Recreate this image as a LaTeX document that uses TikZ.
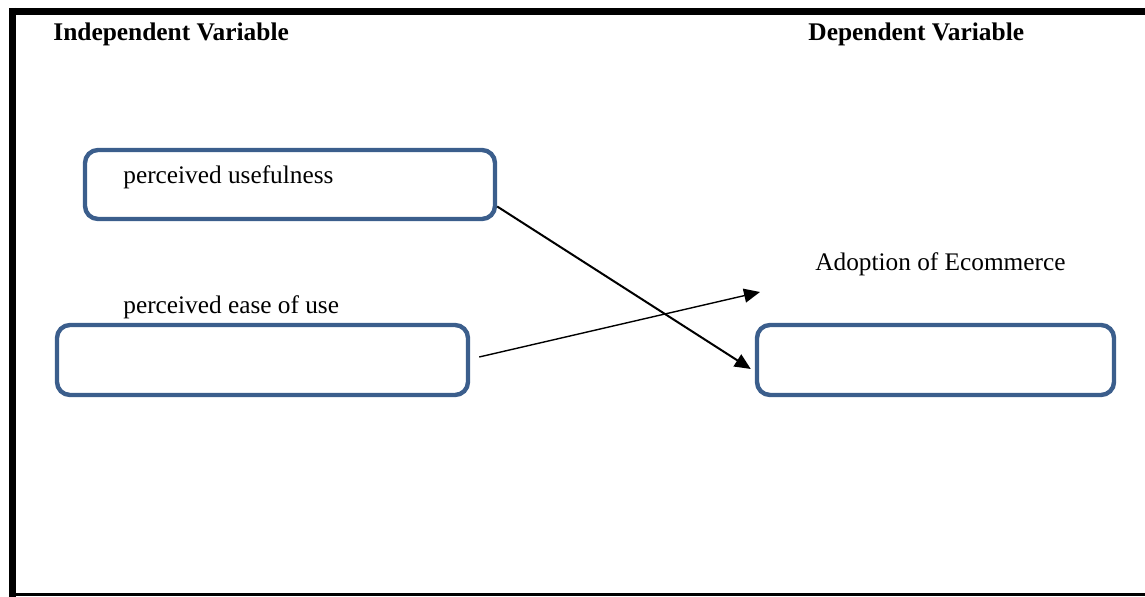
\documentclass[tikz,border=0pt]{standalone}
\usepackage{fontspec}
\setmainfont{Liberation Serif}
\usetikzlibrary{arrows.meta, positioning}

\definecolor{boxblue}{HTML}{3B5E8C}
\tikzset{
  varbox/.style={draw=boxblue, line width=2.2pt, rounded corners=6.5pt, rectangle, inner sep=0pt},
  vartext/.style={anchor=base west, inner sep=0pt, font=\fontsize{12.65}{15}\selectfont},
  headtext/.style={vartext, font=\fontsize{12.7}{15}\selectfont\bfseries},
  link/.style={-{Triangle[length=8pt, width=7pt]}, black}
}

\begin{document}
\begin{tikzpicture}[x=0.5pt, y=-0.5pt]
  \useasboundingbox (0,0) rectangle (1145,597);
  % Frame: heavy top and left, thin bottom
  \draw[line width=3.5pt] (9,11.5) -- (1145,11.5);
  \draw[line width=3.5pt] (12.5,8) -- (12.5,597);
  \draw[line width=1.3pt] (12.5,594.5) -- (1145,594.5);
  % Headings
  \node[headtext] (indep) at (53,40.5) {Independent Variable};
  \node[headtext] (dep) at (808,40.5) {Dependent Variable};
  % First box: perceived usefulness
  \node[varbox, minimum width=205pt, minimum height=34.5pt] (useful) at (290,184.5) {};
  \node[vartext] (usefultxt) at (123,184) {perceived usefulness};
  % Second box: perceived ease of use
  \node[varbox, minimum width=205.5pt, minimum height=35pt] (ease) at (262.5,360) {};
  \node[vartext] (easetxt) at (123,313.5) {perceived ease of use};
  % Third box: Adoption of Ecommerce
  \node[varbox, minimum width=178.5pt, minimum height=35pt] (adopt) at (935.5,360) {};
  \node[vartext] (adopttxt) at (815,271) {Adoption of Ecommerce};
  % Arrows
  \coordinate (easeend) at (760,292);
  \draw[link, line width=1pt] ([yshift=-11pt]useful.east) -- ([xshift=-2pt,yshift=-4.5pt]adopt.west);
  \draw[link, line width=0.7pt] ([xshift=4.5pt,yshift=1.5pt]ease.east) -- (easeend);
\end{tikzpicture}
\end{document}
